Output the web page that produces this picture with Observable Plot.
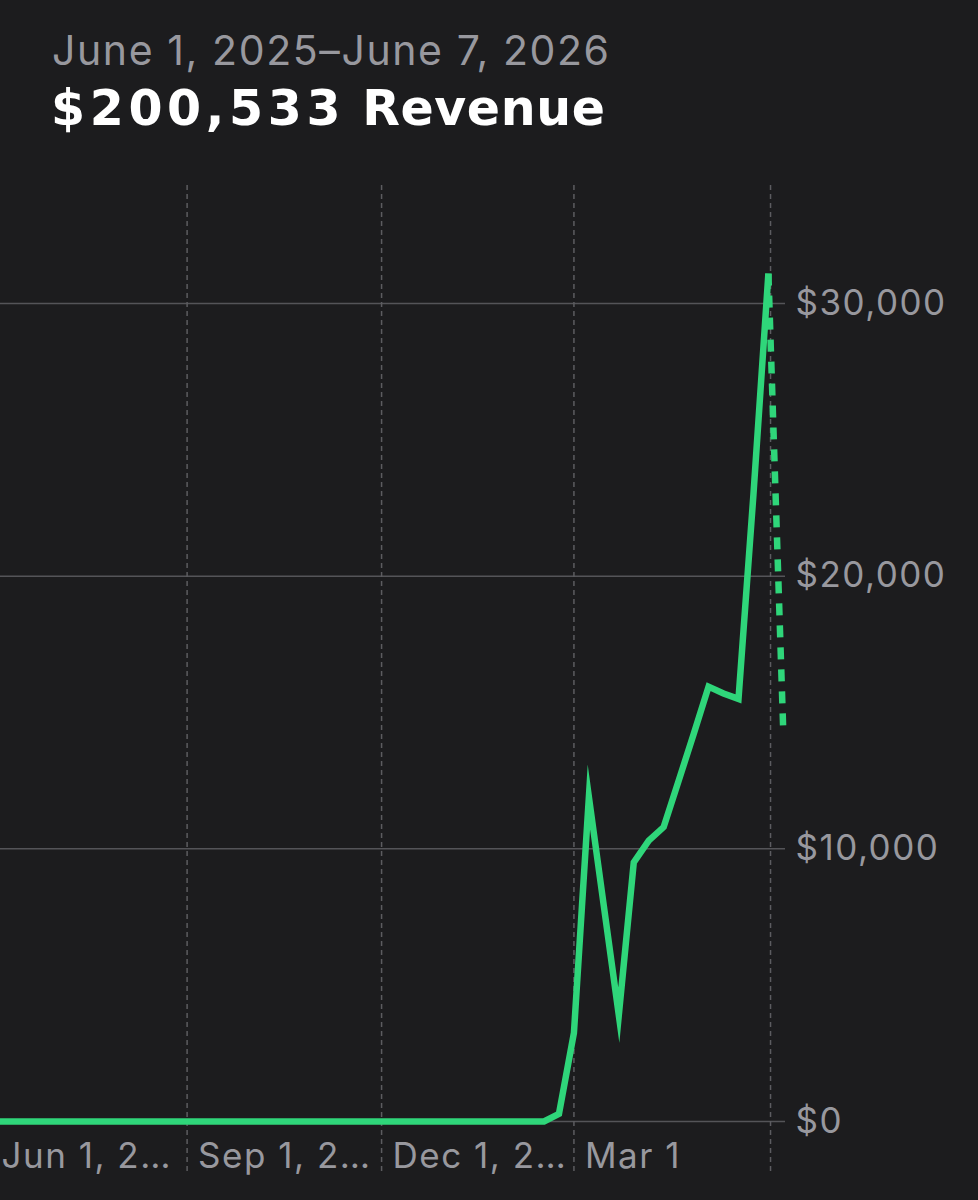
<!DOCTYPE html>
<html>
<head>
<meta charset="utf-8">
<script src="https://cdn.jsdelivr.net/npm/d3@7"></script>
<script src="https://cdn.jsdelivr.net/npm/@observablehq/plot@0.6"></script>
<style>
  html, body { margin: 0; padding: 0; background: #1c1c1e; width: 978px; height: 1200px; overflow: hidden; }
  body { position: relative; font-family: Inter, "Noto Sans", sans-serif; }
  #range { position: absolute; left: 52px; top: 30px; font-size: 41px; line-height: 1; color: #98989e; white-space: nowrap; letter-spacing: 1.6px; }
  #total { position: absolute; left: 51px; top: 84px; font-family: "DejaVu Sans", Inter, sans-serif; font-size: 49px; line-height: 1; font-weight: 700; color: #ffffff; white-space: nowrap; }
  #total .num { letter-spacing: 4.6px; }
  #total .word { letter-spacing: 0.6px; }
  #chart { position: absolute; left: -10px; top: 160px; }
  #chart text { letter-spacing: 1.5px; }
</style>
</head>
<body>
<div id="range">June 1, 2025–June 7, 2026</div>
<div id="total"><span class="num">$200,533</span> <span class="word">Revenue</span></div>
<div id="chart"></div>
<script>
// Weekly revenue (week points on Sundays, first = June 1, 2025, last complete = May 31, 2026)
const firstWeek = "2025-06-01";
const weeklyRevenue = [
  0, 0, 0, 0, 0, 0, 0, 0, 0, 0,
  0, 0, 0, 0, 0, 0, 0, 0, 0, 0,
  0, 0, 0, 0, 0, 0, 0, 0, 0, 0,
  0, 0, 0, 0, 0, 0, 0, 0,
  280,    // Feb 22
  3250,   // Mar 1
  11900,  // Mar 8
  7900,   // Mar 15
  3900,   // Mar 22
  9500,   // Mar 29
  10300,  // Apr 5
  10800,  // Apr 12
  12500,  // Apr 19
  14200,  // Apr 26
  15950,  // May 3
  15700,  // May 10
  15500,  // May 17
  23000,  // May 24
  31100   // May 31
];
// Current (incomplete) week
const projectionDate = "2026-06-07";
const projectionValue = 14200;

const xDomain = ["2025-06-01", "2026-06-08"];
const xTickDates = ["2025-06-01", "2025-09-01", "2025-12-01", "2026-03-01", "2026-06-01"];
const xTickLabels = ["Jun 1, 2…", "Sep 1, 2…", "Dec 1, 2…", "Mar 1", ""];
const yTicks = [0, 10000, 20000, 30000];
const yDomain = [-1980, 34330];

const parse = d3.utcParse("%Y-%m-%d");
const start = parse(firstWeek);
const series = weeklyRevenue.map((v, i) => ({ date: d3.utcWeek.offset(start, i), value: v }));
const last = series[series.length - 1];
const projection = [last, { date: parse(projectionDate), value: projectionValue }];
const xTicks = xTickDates.map((d, i) => ({ date: parse(d), label: xTickLabels[i] }));
const fmt = d => "$" + d3.format(",")(d);

const green = "#2fd67a";
const gray = "#98989e";

const chart = Plot.plot({
  width: 988,
  height: 1040,
  marginLeft: 0,
  marginRight: 193,
  marginTop: 25,
  marginBottom: 25,
  style: { background: "transparent", color: gray, fontFamily: "Inter, 'Noto Sans', sans-serif", overflow: "visible" },
  x: { type: "utc", domain: xDomain.map(parse), axis: null },
  y: { domain: yDomain, axis: null },
  marks: [
    Plot.ruleY(yTicks, { stroke: "#545458", strokeWidth: 1.5 }),
    Plot.ruleX(xTicks, { x: "date", stroke: "#5c5c60", strokeWidth: 1.5, strokeDasharray: "5,4" }),
    Plot.text(yTicks, { y: d => d, text: fmt, frameAnchor: "right", dx: 10, textAnchor: "start", lineAnchor: "middle", fontSize: 35, fill: gray }),
    Plot.text(xTicks, { x: "date", text: "label", frameAnchor: "bottom", dx: 11, dy: -8, textAnchor: "start", lineAnchor: "bottom", fontSize: 35, fill: gray }),
    Plot.line(projection, { x: "date", y: "value", stroke: green, strokeWidth: 6.5, strokeDasharray: "12,10", strokeLinecap: "butt" }),
    Plot.line(series, { x: "date", y: "value", stroke: green, strokeWidth: 6.5, strokeLinejoin: "miter", strokeMiterlimit: 20, strokeLinecap: "butt" })
  ]
});
document.getElementById("chart").appendChild(chart);
</script>
</body>
</html>
